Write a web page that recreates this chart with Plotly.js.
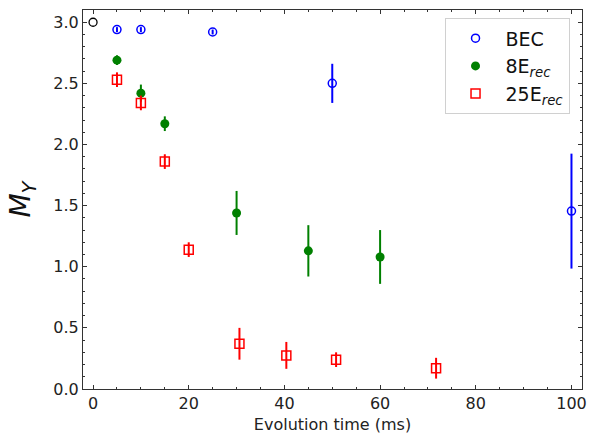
<!DOCTYPE html>
<html>
<head>
<meta charset="utf-8">
<script src="https://cdn.plot.ly/plotly-3.0.1.min.js"></script>
<style>html,body{margin:0;padding:0;background:#fff;}#plot{width:590px;height:437px;}</style>
</head>
<body>
<div id="plot"></div>
<script>
// Data
const refX = [0];
const refY = [3.0];

const becX = [5, 10, 25, 50, 100];
const becY = [2.94, 2.94, 2.92, 2.50, 1.455];
const becErr = [0.02, 0.02, 0.02, 0.16, 0.47];

const e8X = [5, 10, 15, 30, 45, 60];
const e8Y = [2.69, 2.42, 2.17, 1.44, 1.13, 1.08];
const e8Err = [0.04, 0.07, 0.06, 0.18, 0.21, 0.22];

const e25X = [5, 10, 15, 20, 30.6, 40.4, 50.8, 71.7];
const e25Y = [2.53, 2.34, 1.86, 1.14, 0.37, 0.275, 0.24, 0.17];
const e25Err = [0.06, 0.06, 0.06, 0.06, 0.13, 0.11, 0.06, 0.085];

const font = 'DejaVu Sans, sans-serif';

const traces = [
  {
    x: refX, y: refY, type: 'scatter', mode: 'markers', showlegend: false,
    marker: {symbol: 'circle-open', size: 8, color: 'black', line: {width: 1.3}}
  },
  {
    x: becX, y: becY, type: 'scatter', mode: 'markers', name: 'BEC',
    marker: {symbol: 'circle-open', size: 8, color: 'blue', line: {width: 1.5}},
    error_y: {type: 'data', array: becErr, visible: true, color: 'blue', thickness: 2, width: 0}
  },
  {
    x: e8X, y: e8Y, type: 'scatter', mode: 'markers', name: '8E<sub><i>rec</i></sub>',
    marker: {symbol: 'circle', size: 9, color: 'green'},
    error_y: {type: 'data', array: e8Err, visible: true, color: 'green', thickness: 2, width: 0}
  },
  {
    x: e25X, y: e25Y, type: 'scatter', mode: 'markers', name: '25E<sub><i>rec</i></sub>',
    marker: {symbol: 'square-open', size: 9, color: 'red', line: {width: 1.5}},
    error_y: {type: 'data', array: e25Err, visible: true, color: 'red', thickness: 2, width: 0}
  }
];

const layout = {
  width: 590, height: 437,
  margin: {l: 83, r: 8, t: 10, b: 48},
  paper_bgcolor: 'white', plot_bgcolor: 'white',
  font: {family: font, size: 16, color: '#222'},
  showlegend: true,
  legend: {
    x: 0.975, y: 0.978, xanchor: 'right', yanchor: 'top',
    bgcolor: 'white', bordercolor: '#d0d0d0', borderwidth: 1,
    font: {family: font, size: 19, color: '#111'},
    itemwidth: 50, tracegroupgap: 4
  },
  xaxis: {
    range: [-2.1, 102.2], showgrid: false, zeroline: false,
    showline: true, linecolor: '#333', linewidth: 1, mirror: 'ticks',
    ticks: 'inside', ticklen: 4, tickcolor: '#333', dtick: 20, tick0: 0,
    tickfont: {family: font, size: 16, color: '#222'},
    minor: {ticks: 'inside', dtick: 5, ticklen: 2, tickcolor: '#333'},
    title: {text: 'Evolution time (ms)', font: {family: font, size: 16, color: '#222'}, standoff: 6}
  },
  yaxis: {
    range: [0, 3.1], showgrid: false, zeroline: false,
    showline: true, linecolor: '#333', linewidth: 1, mirror: 'ticks',
    ticks: 'inside', ticklen: 4, tickcolor: '#333', dtick: 0.5, tick0: 0,
    tickformat: '.1f',
    tickfont: {family: font, size: 16, color: '#222'},
    minor: {ticks: 'inside', dtick: 0.1, ticklen: 2, tickcolor: '#333'},
    title: {text: '<i>M<sub>Y</sub></i>', font: {family: font, size: 28, color: '#111'}, standoff: 14}
  }
};

Plotly.newPlot('plot', traces, layout, {displayModeBar: false, staticPlot: true});
</script>
</body>
</html>
